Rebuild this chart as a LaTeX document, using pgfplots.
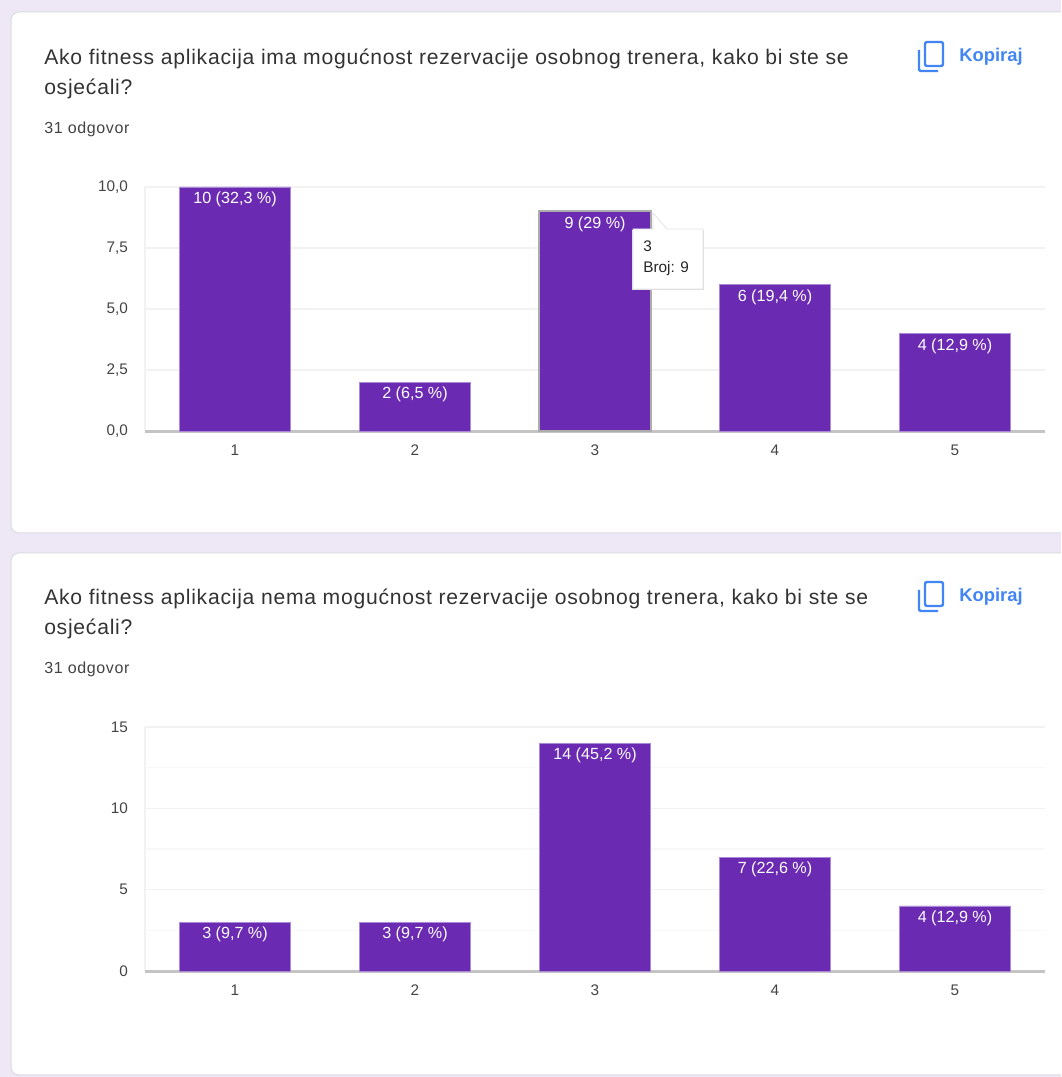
\documentclass[border=0pt]{standalone}
\usepackage{fontspec}
\setmainfont{Liberation Sans}
\newfontfamily\titlefont[LetterSpace=3.5]{Liberation Sans}
\newfontfamily\smallfont[LetterSpace=4]{Liberation Sans}
\usepackage{pgfplots}
\usepackage{pgfplotstable}
\pgfplotsset{compat=1.18}
\definecolor{pagebg}{HTML}{EDE7F6}
\definecolor{cardline}{HTML}{DADCE0}
\definecolor{barc}{HTML}{6A2AB2}
\definecolor{barb}{HTML}{A98AD6}
\definecolor{titlec}{HTML}{333333}
\definecolor{tickc}{HTML}{444444}
\definecolor{gridc}{HTML}{F2F2F2}
\definecolor{gridm}{HTML}{F8F8F8}
\definecolor{basec}{HTML}{C4C4C4}
\definecolor{bluec}{HTML}{4285F4}
\pgfplotstableread[col sep=comma]{
x,y,lab
1,10,10 (32{,}3 \%)
2,2,2 (6{,}5 \%)
3,9,9 (29 \%)
4,6,6 (19{,}4 \%)
5,4,4 (12{,}9 \%)
}\dataA
\pgfplotstableread[col sep=comma]{
x,y,lab
1,3,3 (9{,}7 \%)
2,3,3 (9{,}7 \%)
3,14,14 (45{,}2 \%)
4,7,7 (22{,}6 \%)
5,4,4 (12{,}9 \%)
}\dataB
\pgfplotsset{
 gformsaxis/.style={
  scale only axis, width=675pt, height=183pt,
  anchor=south west,
  xmin=0.5, xmax=5.5, ymin=0,
  axis x line=bottom, axis y line=left,
  x axis line style={-, draw=none},
  y axis line style={-, draw=gridc, line width=1.2pt},
  xtick={1,2,3,4,5}, xticklabels={1,2,3,4,5},
  major tick length=0pt, minor tick length=0pt,
  ymajorgrids, grid style={draw=gridc, line width=1.2pt},
  tick label style={font=\fontsize{11.5}{13}\selectfont, text=tickc},
  xticklabel style={yshift=-6.5pt, text height=8.2pt, text depth=0pt},
  yticklabel style={xshift=-9.2pt},
  /pgf/number format/assume math mode=true,
  /pgf/number format/use comma,
  clip=false,
 },
 gbar/.style={
  ybar, bar width=83pt, bar shift=0pt, fill=barc, draw=barb, line width=0.5pt,
  nodes near coords, point meta=explicit symbolic,
  nodes near coords align={below},
  every node near coord/.append style={font=\fontsize{12.1}{14}\selectfont, text=white, inner sep=0pt, yshift=-3.5pt, anchor=north},
 }
}
\newcommand{\qtitle}[1]{{\titlefont\fontsize{15.85}{18}\selectfont #1}}
\newcommand{\qsmall}[1]{{\smallfont\fontsize{12}{14}\selectfont #1}}
\begin{document}
\begin{tikzpicture}[x=0.75pt,y=0.75pt]
\clip (0,0) rectangle (1061,1077);
\fill[pagebg] (0,0) rectangle (1061,1077);
% cards
\filldraw[fill=white, draw=cardline, line width=0.75pt, rounded corners=6pt] (11,544) rectangle (1100,1065);
\filldraw[fill=white, draw=cardline, line width=0.75pt, rounded corners=6pt] (11,2) rectangle (1100,524);
% titles
\node[anchor=base west, inner sep=0pt, text=titlec] at (44,1012) {\qtitle{Ako fitness aplikacija ima mogućnost rezervacije osobnog trenera, kako bi ste se}};
\node[anchor=base west, inner sep=0pt, text=titlec] at (44,982) {\qtitle{osjećali?}};
\node[anchor=base west, inner sep=0pt, text=tickc] at (44,943) {\qsmall{31 odgovor}};
\node[anchor=base west, inner sep=0pt, text=titlec] at (44,472) {\qtitle{Ako fitness aplikacija nema mogućnost rezervacije osobnog trenera, kako bi ste se}};
\node[anchor=base west, inner sep=0pt, text=titlec] at (44,442) {\qtitle{osjećali?}};
\node[anchor=base west, inner sep=0pt, text=tickc] at (44,403) {\qsmall{31 odgovor}};
% copy icons and links
\foreach \dy in {0,540}{
 \draw[bluec, line width=1.8pt, rounded corners=1.5pt] (925,{1077-66-\dy}) rectangle (943,{1077-42-\dy});
 \draw[bluec, line width=1.8pt, rounded corners=1.5pt] (919,{1077-50-\dy}) -- (919,{1077-71-\dy}) -- (938,{1077-71-\dy});
 \node[anchor=base west, inner sep=0pt, text=bluec, font=\fontsize{13.8}{15}\selectfont\bfseries] at (959,{1077-62-\dy}) {Kopiraj};
}
% chart 1
\begin{axis}[gformsaxis, at={(108.75pt,484.5pt)}, ymax=10,
  ytick={0,2.5,5,7.5,10},
  yticklabel style={/pgf/number format/fixed, /pgf/number format/fixed zerofill, /pgf/number format/precision=1}]
\addplot[draw=basec, line width=2.6pt, no marks, forget plot] coordinates {(0.5,-0.03) (5.5,-0.03)};
\addplot[gbar] table[x=x,y=y,meta=lab,col sep=comma] {\dataA};
\addplot[ybar, bar width=84pt, bar shift=0pt, draw=gray!65, line width=1.4pt, fill=none, forget plot] coordinates {(3,9)};
\end{axis}
% chart 2
\begin{axis}[gformsaxis, at={(108.75pt,79.5pt)}, ymax=15,
  ytick={0,5,10,15}, minor ytick={2.5,7.5,12.5},
  yminorgrids, minor grid style={draw=gridm, line width=1pt}]
\addplot[draw=basec, line width=2.6pt, no marks, forget plot] coordinates {(0.5,-0.045) (5.5,-0.045)};
\addplot[gbar] table[x=x,y=y,meta=lab,col sep=comma] {\dataB};
\end{axis}
% tooltip
\fill[black!12] (632,787) rectangle (704,847);
\filldraw[fill=white, draw=black!12, line width=0.5pt] (633,788) -- (633,848) -- (653,848) -- (653,864) -- (667,848) -- (703,848) -- (703,788) -- cycle;
\node[anchor=base west, inner sep=0pt, text=black!85, font=\fontsize{11.5}{13}\selectfont] at (643,825) {3};
\node[anchor=base west, inner sep=0pt, text=black!85, font=\fontsize{11.5}{13}\selectfont] at (643,804) {Broj: 9};
\end{tikzpicture}
\end{document}
